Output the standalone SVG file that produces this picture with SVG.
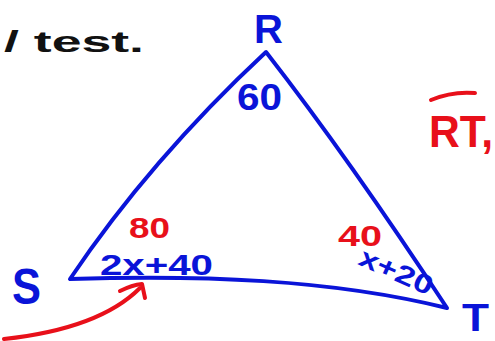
<svg xmlns="http://www.w3.org/2000/svg" width="495" height="341" viewBox="0 0 495 341">
<style>
.b{fill:#0a14d8;font-family:"Liberation Sans",Arial,sans-serif;font-weight:bold}
.r{fill:#e8101a;font-family:"Liberation Sans",Arial,sans-serif;font-weight:bold}
.k{fill:#111;font-family:"Liberation Sans",Arial,sans-serif;font-weight:bold}
.ln{fill:none;stroke-linecap:round;stroke-linejoin:round}
</style>
<rect width="495" height="341" fill="#fff"/>
<text class="k" x="4" y="52" font-size="30" textLength="140" lengthAdjust="spacingAndGlyphs">/ test.</text>
<g id="triangle">
<path class="ln" stroke="#0a14d8" stroke-width="4" d="M266,52 Q150,160 70,279 C200,275 330,279 447,308 Q350,160 266,52 Z"/>
</g>
<g id="labels">
<text class="b" x="254" y="43" font-size="40">R</text>
<text class="b" x="237" y="110" font-size="36" textLength="45" lengthAdjust="spacingAndGlyphs">60</text>
<text class="b" x="12" y="304" font-size="50" textLength="29" lengthAdjust="spacingAndGlyphs">S</text>
<text class="b" x="462" y="331" font-size="38" textLength="27" lengthAdjust="spacingAndGlyphs">T</text>
<text class="r" x="129" y="238" font-size="29" textLength="41" lengthAdjust="spacingAndGlyphs">80</text>
<text class="b" x="100" y="275" font-size="29" textLength="113" lengthAdjust="spacingAndGlyphs">2x+40</text>
<text class="r" x="338" y="246" font-size="29" textLength="44" lengthAdjust="spacingAndGlyphs">40</text>
<text class="b" x="0" y="0" font-size="27" textLength="78" lengthAdjust="spacingAndGlyphs" transform="translate(357,264) rotate(24)">x+20</text>
<text class="r" x="429" y="147" font-size="44" textLength="64" lengthAdjust="spacingAndGlyphs">RT,</text>
<path class="ln" stroke="#e8101a" stroke-width="4" d="M431,100 Q452,91 475,93"/>
</g>
<g id="connectors">
<path class="ln" stroke="#e8101a" stroke-width="4" d="M4,339 C60,333 110,318 140,288"/>
<path class="ln" stroke="#e8101a" stroke-width="4" d="M120,291 Q132,285 142,284 L145,298"/>
</g>
</svg>
